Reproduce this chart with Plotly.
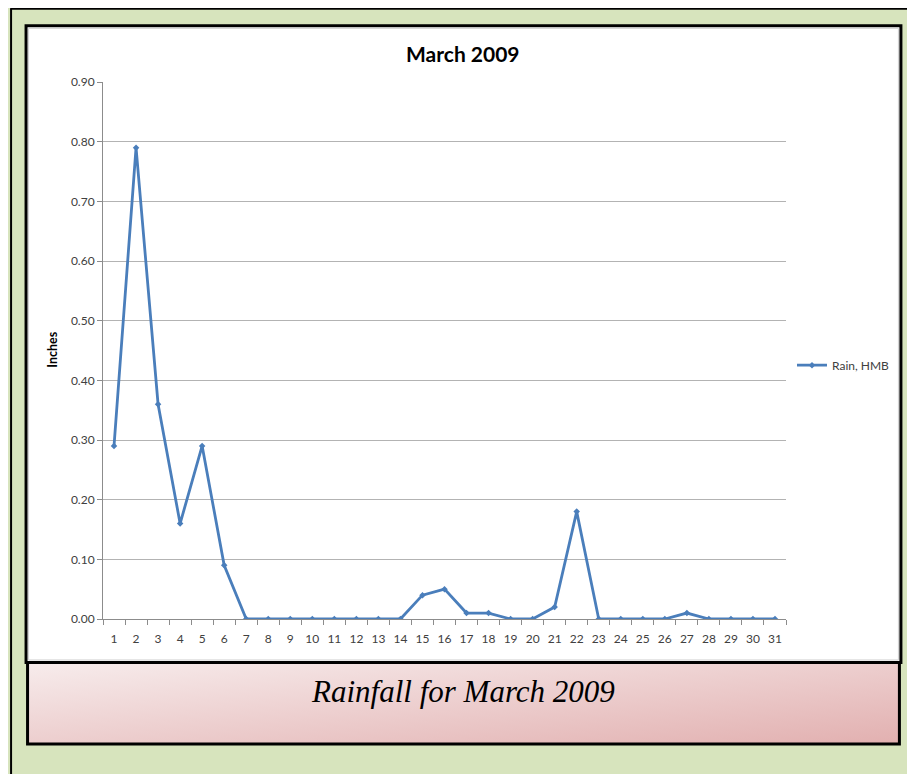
import base64
import plotly.graph_objects as go

# ---- data ----
days = [str(d) for d in range(1, 32)]
rain_hmb = [0.29, 0.79, 0.36, 0.16, 0.29, 0.09, 0.00, 0.00, 0.00, 0.00,
            0.00, 0.00, 0.00, 0.00, 0.04, 0.05, 0.01, 0.01, 0.00, 0.00,
            0.02, 0.18, 0.00, 0.00, 0.00, 0.00, 0.01, 0.00, 0.00, 0.00, 0.00]
series_name = "Rain, HMB"
chart_title = "March 2009"
y_title = "Inches"
caption = "Rainfall for March 2009"
y_ticks = [0.0, 0.1, 0.2, 0.3, 0.4, 0.5, 0.6, 0.7, 0.8, 0.9]

# ---- geometry (page pixels; the page body has an 8px margin) ----
OFF = 8
W, H = 915 - OFF, 774 - OFF
L, R, T, B = 102.5 - OFF, 129, 81.7 - OFF, 155
PW, PH = W - L - R, H - T - B


def fx(px):
    return (px - OFF - L) / PW


def fy(py):
    return 1 - (py - OFF - T) / PH


BLUE = "#4a7ebb"
GREEN = "#d7e4bd"

fig = go.Figure()
fig.add_trace(go.Scatter(
    x=days, y=rain_hmb, name=series_name, mode="lines+markers",
    line=dict(color=BLUE, width=2.8),
    marker=dict(symbol="diamond", size=5, color=BLUE),
    showlegend=True,
))

shapes = []
# outer border (top & left visible)
shapes.append(dict(type="line", xref="paper", yref="paper",
                   x0=fx(10), x1=fx(930), y0=fy(8.5), y1=fy(8.5),
                   line=dict(color="black", width=2), layer="below"))
shapes.append(dict(type="line", xref="paper", yref="paper",
                   x0=fx(10.5), x1=fx(10.5), y0=fy(8), y1=fy(790),
                   line=dict(color="black", width=2), layer="below"))
# chart box
shapes.append(dict(type="rect", xref="paper", yref="paper",
                   x0=fx(25.5), x1=fx(901), y0=fy(25.5), y1=fy(662.5),
                   fillcolor="white", line=dict(color="black", width=3), layer="below"))
shapes.append(dict(type="rect", xref="paper", yref="paper",
                   x0=fx(28), x1=fx(898.5), y0=fy(28), y1=fy(660),
                   fillcolor="rgba(0,0,0,0)", line=dict(color="#d0d0d0", width=1), layer="below"))
# caption box
shapes.append(dict(type="rect", xref="paper", yref="paper",
                   x0=fx(27), x1=fx(899.5), y0=fy(662.5), y1=fy(744),
                   fillcolor="rgba(0,0,0,0)", line=dict(color="black", width=3), layer="below"))

svg = ('<svg xmlns="http://www.w3.org/2000/svg" width="873" height="82" viewBox="0 0 873 82" '
       'preserveAspectRatio="none"><defs><linearGradient id="g" x1="0" y1="0" x2="1" y2="1">'
       '<stop offset="0" stop-color="#f7ecec"/><stop offset="1" stop-color="#e2b0b0"/>'
       '</linearGradient></defs><rect width="873" height="82" fill="url(#g)"/></svg>')
uri = "data:image/svg+xml;base64," + base64.b64encode(svg.encode()).decode()

annotations = [
    dict(text=chart_title, xref="paper", yref="paper", x=fx(463), y=fy(53),
         showarrow=False, xanchor="center", yanchor="middle",
         font=dict(family="Lato", size=21, color="black", weight="bold")),
    dict(text=y_title, xref="paper", yref="paper", x=fx(52), y=fy(350),
         showarrow=False, textangle=-90, xanchor="center", yanchor="middle",
         font=dict(family="Lato", size=12.5, color="black", weight="bold")),
    dict(text=caption, xref="paper", yref="paper", x=fx(463), y=fy(692),
         showarrow=False, xanchor="center", yanchor="middle",
         font=dict(family="Liberation Serif", size=31, color="black", style="italic")),
]

fig.update_layout(
    width=W, height=H, autosize=False,
    margin=dict(l=L, r=R, t=T, b=B, pad=0),
    paper_bgcolor=GREEN, plot_bgcolor="white",
    shapes=shapes, annotations=annotations,
    images=[dict(source=uri, xref="paper", yref="paper", x=fx(27), y=fy(662.5),
                 sizex=fx(899.5) - fx(27), sizey=fy(662.5) - fy(744),
                 xanchor="left", yanchor="top", sizing="stretch", layer="below")],
    font=dict(family="Lato", size=12, color="#404040"),
    showlegend=True,
    legend=dict(x=fx(792), y=fy(365), xanchor="left", yanchor="middle",
                bgcolor="rgba(0,0,0,0)", itemwidth=30,
                font=dict(family="Lato", size=12, color="#404040")),
    xaxis=dict(type="category", range=[-0.5, 30.5], tickson="boundaries",
               showgrid=False, showline=True, linecolor="#8c8c8c", linewidth=1,
               ticks="outside", ticklen=5, tickcolor="#8c8c8c", tickangle=0,
               ticklabelstandoff=9,
               tickfont=dict(family="Lato", size=12, color="#404040")),
    yaxis=dict(range=[0, 0.9], tickvals=y_ticks, tickformat=".2f",
               showgrid=True, gridcolor="#b3b3b3", gridwidth=1,
               showline=True, linecolor="#8c8c8c", linewidth=1, zeroline=False,
               ticks="outside", ticklen=5, tickcolor="#8c8c8c",
               tickfont=dict(family="Lato", size=12, color="#404040")),
)

fig.write_html("out.html")
